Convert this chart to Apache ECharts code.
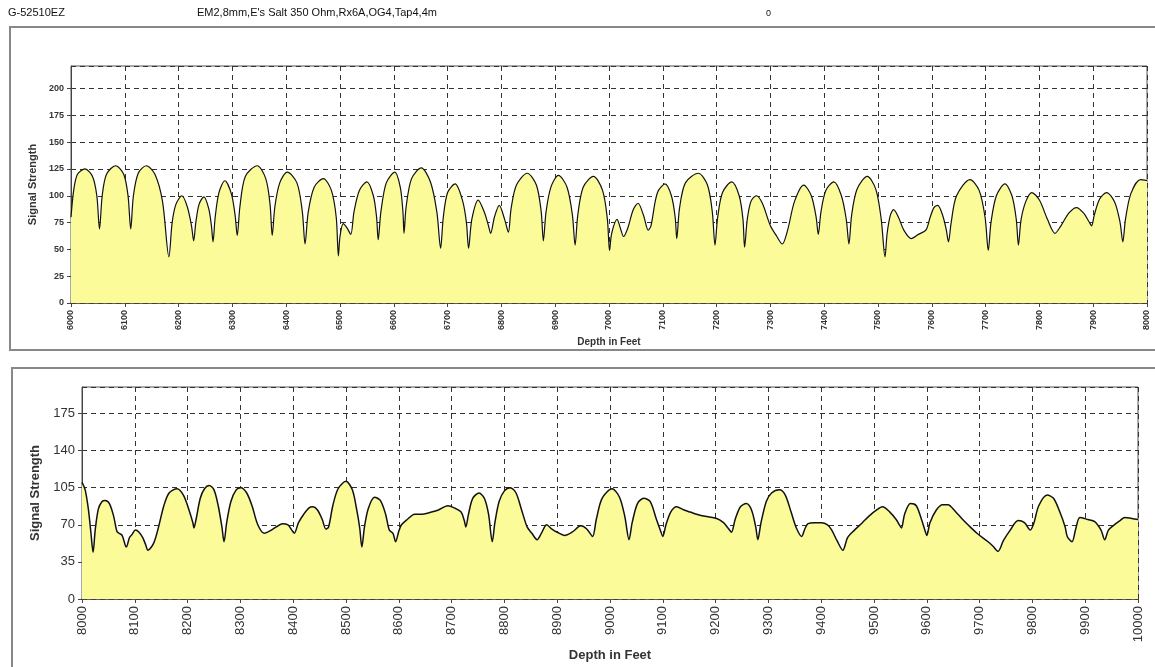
<!DOCTYPE html>
<html><head><meta charset="utf-8">
<script src="https://cdn.jsdelivr.net/npm/echarts@6/dist/echarts.min.js"></script>
<style>html,body{margin:0;padding:0;background:#fff}#c{width:1155px;height:667px}</style>
</head><body><div id="c"></div>
<script>
// ---- Data ----
const headerId = "G-52510EZ";
const headerDesc = "EM2,8mm,E's Salt 350 Ohm,Rx6A,OG4,Tap4,4m";
const headerMark = "0";
const yName = "Signal Strength";
const xName = "Depth in Feet";

const depthTop = [6000,6005,6012,6026,6040,6048,6053,6058,6066,6083,6098,6106,6111,6116,6125,6140,6156,6170,6182,6188,6195,6206,6216,6224,6228,6232,6238,6247,6256,6261,6264,6268,6275,6286,6298,6305,6309,6314,6324,6346,6362,6370,6374,6379,6388,6402,6420,6430,6435,6441,6452,6469,6484,6493,6497,6500,6506,6513,6520,6526,6536,6550,6562,6568,6571,6576,6586,6602,6612,6617,6619,6623,6633,6651,6668,6680,6687,6692,6700,6714,6728,6735,6739,6745,6757,6768,6776,6780,6787,6796,6806,6813,6818,6828,6848,6865,6874,6878,6883,6892,6906,6922,6932,6937,6942,6952,6971,6988,6997,7001,7005,7015,7021,7027,7035,7045,7054,7064,7073,7078,7086,7092,7104,7116,7123,7126,7131,7142,7166,7183,7192,7197,7202,7211,7228,7242,7249,7252,7257,7264,7274,7285,7300,7312,7322,7332,7345,7362,7376,7385,7389,7394,7403,7418,7432,7441,7446,7451,7461,7480,7496,7506,7513,7517,7523,7529,7538,7548,7562,7575,7589,7597,7604,7611,7620,7627,7631,7636,7646,7671,7688,7699,7705,7710,7720,7736,7749,7757,7761,7766,7775,7786,7800,7815,7829,7840,7855,7869,7882,7892,7897,7902,7912,7925,7940,7950,7955,7960,7970,7988,8000];
const signalTop = [80,105,120,125,118,100,69,100,120,128,120,100,69,100,121,128,120,95,43,75,92,100,90,72,58,75,92,99,88,72,57,80,103,114,102,82,63,90,118,128,116,92,63,90,112,122,112,85,55,85,108,116,105,80,44,62,74,70,64,85,105,113,100,80,59,85,112,122,108,85,65,90,116,126,113,85,51,80,103,111,95,75,51,78,96,85,72,65,80,91,78,66,88,110,121,110,85,58,85,108,119,108,82,54,82,108,118,105,78,49,65,78,70,62,70,87,93,82,68,72,95,105,111,100,80,60,88,112,121,110,85,54,80,103,113,100,78,52,78,95,100,93,72,62,55,68,95,110,100,80,64,85,105,113,100,78,55,82,106,118,106,78,43,65,82,87,80,68,60,64,68,80,89,91,82,68,57,75,100,115,105,80,49,75,100,111,100,78,54,78,95,103,96,78,65,72,84,89,84,76,72,82,97,103,94,75,57,78,102,115,114];

const depthBottom = [8000,8006,8012,8017,8021,8025,8031,8038,8044,8052,8060,8066,8070,8076,8084,8090,8095,8101,8108,8115,8120,8125,8136,8145,8155,8165,8180,8192,8202,8210,8212,8216,8224,8232,8241,8250,8258,8265,8269,8274,8282,8292,8301,8312,8322,8333,8345,8355,8368,8380,8390,8396,8402,8410,8420,8430,8437,8446,8455,8462,8467,8475,8485,8500,8512,8520,8526,8530,8535,8542,8554,8565,8575,8582,8589,8594,8600,8605,8616,8630,8645,8662,8675,8693,8705,8718,8724,8727,8732,8740,8752,8762,8770,8777,8782,8790,8800,8811,8822,8832,8843,8852,8862,8870,8880,8890,8900,8914,8928,8945,8956,8967,8974,8985,9004,9018,9028,9036,9042,9052,9064,9076,9088,9096,9100,9106,9115,9126,9140,9152,9164,9180,9202,9215,9225,9230,9237,9247,9258,9268,9276,9280,9286,9296,9306,9321,9332,9343,9353,9363,9369,9375,9388,9400,9412,9420,9430,9441,9450,9463,9478,9490,9505,9516,9530,9542,9548,9552,9558,9569,9580,9590,9597,9600,9606,9618,9630,9640,9655,9668,9678,9695,9716,9725,9735,9745,9758,9773,9785,9796,9803,9812,9828,9840,9852,9862,9866,9875,9882,9890,9905,9918,9930,9937,9944,9955,9966,9975,9988,10000];
const signalBottom = [110,103,85,62,44,65,85,92,93,90,78,64,62,60,49,58,61,65,63,58,52,46,53,68,88,100,104,98,85,72,67,75,95,104,107,103,88,68,54,72,92,103,105,100,88,70,62,64,68,71,70,66,62,72,80,86,87,84,75,66,68,88,104,111,103,85,67,49,68,85,96,93,80,65,62,54,64,70,75,80,80,82,84,88,86,82,74,68,80,95,100,95,80,54,72,92,102,105,100,85,68,62,56,62,70,66,63,60,63,69,66,59,75,95,104,96,78,56,72,90,95,92,75,64,59,70,82,87,84,82,80,78,76,72,66,63,75,87,90,84,68,56,72,92,100,103,98,82,67,59,66,71,72,72,70,65,55,46,58,65,72,78,84,87,82,75,70,67,80,90,88,75,64,60,72,84,89,89,82,75,70,62,54,50,45,55,65,74,72,65,72,88,98,95,82,68,59,54,66,77,75,73,65,56,65,70,74,77,76,75];

const topTicks = {min: 6000, max: 8000, step: 100};
const bottomTicks = {min: 8000, max: 10000, step: 100};
const topY = {min: 0, max: 221, step: 25};
const bottomY = {min: 0, max: 200, step: 35};

// ---- Chart ----
const chart = echarts.init(document.getElementById('c'));
const fill = '#fbfb9a';
const gridDash = {color: '#333', type: [5, 4], width: 1};
const narrow = 'Liberation Sans Narrow, Liberation Sans, Arial';
function xAxisCfg(idx, t, fs, bold, nameFs, nameGap) {
  return {
    type: 'value', gridIndex: idx, min: t.min, max: t.max, interval: t.step,
    name: xName, nameLocation: 'middle', nameGap: nameGap,
    nameTextStyle: {fontFamily: 'Liberation Sans, Arial', fontWeight: 'bold', fontSize: nameFs, color: '#333'},
    axisLine: {lineStyle: {color: '#444', width: 1.5}},
    axisTick: {show: true, length: 4, lineStyle: {color: '#444'}},
    axisLabel: {rotate: 90, fontSize: fs, fontWeight: bold ? 'bold' : 'normal', color: '#333', margin: 7,
      fontFamily: bold ? narrow : 'Liberation Sans, Arial', formatter: v => String(v)},
    splitLine: {show: true, lineStyle: gridDash}
  };
}
function yAxisCfg(idx, t, fs, bold, nameFs, nameGap) {
  return {
    type: 'value', gridIndex: idx, min: t.min, max: t.max, interval: t.step,
    name: yName, nameLocation: 'middle', nameGap: nameGap, nameRotate: 90,
    nameTextStyle: {fontFamily: 'Liberation Sans, Arial', fontWeight: 'bold', fontSize: nameFs, color: '#333'},
    axisLine: {show: true, lineStyle: {color: '#444', width: 1}},
    axisTick: {show: true, length: 4, lineStyle: {color: '#444'}},
    axisLabel: {fontSize: fs, fontWeight: bold ? 'bold' : 'normal', color: '#333', margin: 7, showMaxLabel: false,
      fontFamily: bold ? narrow : 'Liberation Sans, Arial'},
    splitLine: {show: true, lineStyle: gridDash}
  };
}
const topData = depthTop.map((d, i) => [d, signalTop[i]]);
const bottomData = depthBottom.map((d, i) => [d, signalBottom[i]]);

chart.setOption({
  animation: false,
  backgroundColor: '#fff',
  graphic: [
    {type: 'rect', shape: {x: 10, y: 27, width: 1160, height: 323}, style: {fill: 'none', stroke: '#888', lineWidth: 2}, z: -1},
    {type: 'rect', shape: {x: 12, y: 368, width: 1160, height: 320}, style: {fill: 'none', stroke: '#888', lineWidth: 2}, z: -1},
    {type: 'text', left: 8, top: 7, style: {text: headerId, font: '11px ' + narrow, fill: '#111'}},
    {type: 'text', left: 197, top: 7, style: {text: headerDesc, font: '11px ' + narrow, fill: '#111'}},
    {type: 'text', left: 766, top: 9, style: {text: headerMark, font: '9px Liberation Sans, Arial', fill: '#111'}}
  ],
  grid: [
    {left: 71, top: 66, right: 8, height: 237, show: true, backgroundColor: '#fff', borderColor: '#555', borderWidth: 1},
    {left: 82, top: 387, right: 17, height: 212, show: true, backgroundColor: '#fff', borderColor: '#555', borderWidth: 1}
  ],
  xAxis: [xAxisCfg(0, topTicks, 9, true, 10, 34), xAxisCfg(1, bottomTicks, 13, false, 13, 50)],
  yAxis: [yAxisCfg(0, topY, 9, true, 11, 33), yAxisCfg(1, bottomY, 13, false, 13, 38)],
  series: [
    {type: 'line', xAxisIndex: 0, yAxisIndex: 0, data: topData, showSymbol: false, smooth: 0.3,
      lineStyle: {color: '#111', width: 1.2}, areaStyle: {color: fill, opacity: 1}},
    {type: 'line', xAxisIndex: 1, yAxisIndex: 1, data: bottomData, showSymbol: false, smooth: 0.3,
      lineStyle: {color: '#111', width: 1.5}, areaStyle: {color: fill, opacity: 1}}
  ]
});
</script></body></html>
